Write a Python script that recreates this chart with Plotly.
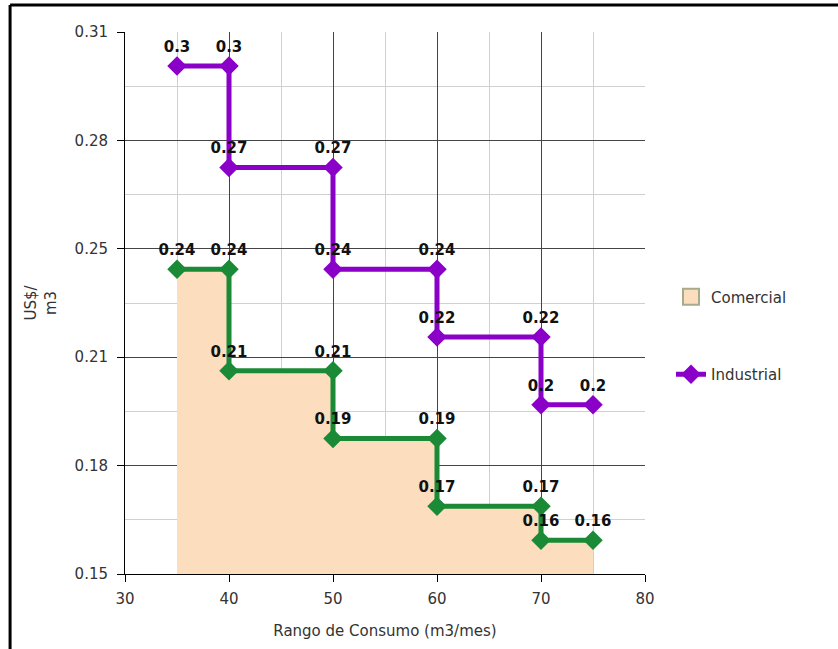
import plotly.graph_objects as go

# Data
x_steps = [35, 40, 40, 50, 50, 60, 60, 70, 70, 75]
comercial = [0.24, 0.24, 0.21, 0.21, 0.19, 0.19, 0.17, 0.17, 0.16, 0.16]
industrial = [0.30, 0.30, 0.27, 0.27, 0.24, 0.24, 0.22, 0.22, 0.20, 0.20]
y_tickvals = [0.15, 0.182, 0.214, 0.246, 0.278, 0.31]
y_ticktext = ["0.15", "0.18", "0.21", "0.25", "0.28", "0.31"]
x_tickvals = [30, 40, 50, 60, 70, 80]

GREEN = "#1b8a36"
PURPLE = "#8a00c8"
FILL = "#fcddbd"
FONT = "DejaVu Sans, Arial, sans-serif"

fig = go.Figure()

# Commercial area
fig.add_trace(go.Scatter(
    x=x_steps, y=comercial, mode="none", fill="tozeroy", fillcolor=FILL,
    showlegend=False, hoverinfo="skip",
))
# Legend swatch for commercial (square)
fig.add_trace(go.Scatter(
    x=[None], y=[None], mode="markers", name="Comercial", legendgroup="c",
    marker=dict(symbol="square", size=16, color=FILL, line=dict(color="#a3ad8e", width=2)),
))
fig.add_trace(go.Scatter(
    x=x_steps, y=comercial, mode="lines+markers+text",
    line=dict(color=GREEN, width=5),
    marker=dict(symbol="diamond", size=15, color=GREEN),
    text=["%g" % v for v in comercial], textposition="top center",
    textfont=dict(family=FONT, size=15, color="#111111", weight="bold"),
    showlegend=False, cliponaxis=False,
))
fig.add_trace(go.Scatter(
    x=x_steps, y=industrial, mode="lines+markers+text",
    line=dict(color=PURPLE, width=5),
    marker=dict(symbol="diamond", size=15, color=PURPLE),
    text=["%g" % v for v in industrial], textposition="top center",
    textfont=dict(family=FONT, size=15, color="#111111", weight="bold"),
    name="Industrial", legendgroup="i", cliponaxis=False,
))

fig.update_xaxes(
    range=[30, 80], tickvals=x_tickvals, ticks="outside", ticklen=7,
    tickcolor="#000", showline=True, linecolor="#000", linewidth=1,
    showgrid=True, gridcolor="#444444", gridwidth=1,
    minor=dict(dtick=5, tick0=30, showgrid=True, gridcolor="#d0d0d0", gridwidth=1),
    zeroline=False, ticklabelstandoff=4,
    tickfont=dict(family=FONT, size=15, color="#333333"),
    title=dict(text="Rango de Consumo (m3/mes)", font=dict(family=FONT, size=15, color="#333333"), standoff=18),
)
fig.update_yaxes(
    range=[0.15, 0.31], tickvals=y_tickvals, ticktext=y_ticktext, ticks="outside",
    ticklen=7, tickcolor="#000", showline=True, linecolor="#000", linewidth=1,
    showgrid=True, gridcolor="#444444", gridwidth=1,
    minor=dict(dtick=0.016, tick0=0.15, showgrid=True, gridcolor="#d0d0d0", gridwidth=1),
    zeroline=False, ticklabelstandoff=6,
    tickfont=dict(family=FONT, size=15, color="#333333"),
    title=dict(text="US$/<br>m3", font=dict(family=FONT, size=15, color="#333333"), standoff=14),
)

fig.update_layout(
    width=838, height=649,
    margin=dict(l=125, r=193, t=32, b=73),
    paper_bgcolor="white", plot_bgcolor="white",
    legend=dict(x=1.05, y=0.44, xanchor="left", yanchor="middle",
                font=dict(family=FONT, size=15, color="#333333"),
                tracegroupgap=55, traceorder="grouped", itemwidth=30),
    showlegend=True,
    shapes=[
        dict(type="line", xref="paper", yref="paper", x0=-0.221, x1=1.4, y0=1.05, y1=1.05,
             line=dict(color="#000", width=3)),
        dict(type="line", xref="paper", yref="paper", x0=-0.221, x1=-0.221, y0=1.05, y1=-0.14,
             line=dict(color="#000", width=3)),
    ],
)

fig.write_html("out.html", config={"displayModeBar": False},
               post_script="document.body.style.margin='0';")
